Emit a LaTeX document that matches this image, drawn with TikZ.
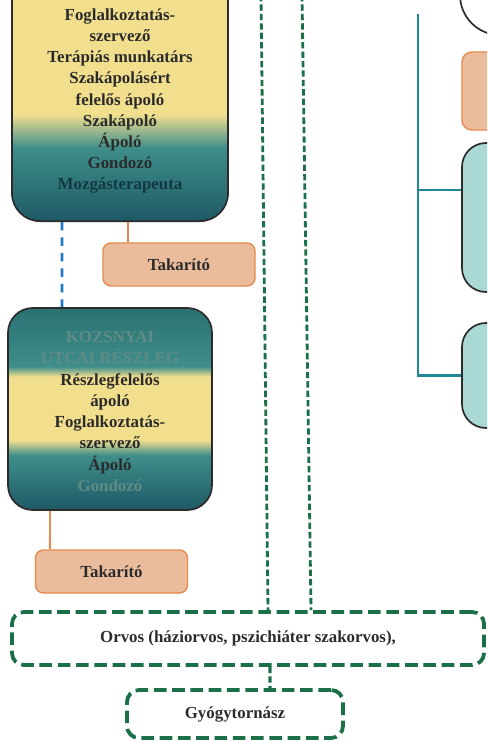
\documentclass[tikz,border=0pt]{standalone}
\usepackage{fontspec}
\setmainfont{Liberation Serif}
\usepackage{tikz}
\definecolor{sarga}{HTML}{F2DF8E}
\definecolor{tealmid}{HTML}{3F8E8B}
\definecolor{tealtop}{HTML}{2A7072}
\definecolor{tealdark}{HTML}{1D5965}
\definecolor{peach}{HTML}{EBBC9C}
\definecolor{narancs}{HTML}{E48A4E}
\definecolor{zold}{HTML}{1B7048}
\definecolor{kek}{HTML}{2378C8}
\definecolor{turkiz}{HTML}{1F8798}
\definecolor{halvany}{HTML}{A9D8D5}
\definecolor{szurke}{HTML}{2B2B2B}
\definecolor{tealszoveg}{HTML}{123840}
\definecolor{fakoszoveg}{HTML}{5E8C84}
\pgfdeclareverticalshading{felsoshade}{100bp}{color(0bp)=(tealdark); color(25bp)=(tealdark); color(38bp)=(tealmid); color(44bp)=(sarga); color(100bp)=(sarga)}
\pgfdeclareverticalshading{reszlegshade}{100bp}{color(0bp)=(tealdark); color(25bp)=(tealdark); color(38.6bp)=(tealmid); color(42.3bp)=(sarga); color(58bp)=(sarga); color(60.5bp)=(tealmid); color(75bp)=(tealtop); color(100bp)=(tealtop)}
\tikzstyle{unit} = [rectangle, draw=szurke, line width=1.2pt, rounded corners=0.7cm]
\tikzstyle{stafftext} = [align=center, font=\bfseries\fontsize{12}{15.1}\selectfont, text=szurke]
\tikzstyle{cleaner} = [rectangle, draw=narancs, line width=1pt, fill=peach, rounded corners=0.2cm, minimum width=3.8cm, minimum height=1.075cm, font=\bfseries\fontsize{12}{14}\selectfont, text=szurke]
\tikzstyle{outside} = [rectangle, draw=zold, line width=2.7pt, dash pattern=on 9pt off 4pt, rounded corners=0.3cm, font=\bfseries\fontsize{12}{14}\selectfont, text=szurke]
\tikzstyle{tealbox} = [rectangle, draw=szurke, line width=1.2pt, fill=halvany, rounded corners=0.6cm]
\tikzstyle{greenline} = [zold, line width=2pt, dash pattern=on 4.5pt off 2.2pt]
\tikzstyle{blueline} = [kek, line width=2pt, dash pattern=on 6pt off 5pt]
\tikzstyle{orangeline} = [narancs, line width=1.3pt]
\tikzstyle{treeline} = [turkiz, line width=1.5pt]
\begin{document}
\begin{tikzpicture}[x=0.025cm, y=-0.025cm]
        \useasboundingbox (0,0) rectangle (487,742);
        \clip (0,0) rectangle (487,742);

        % Left column: units with their staff
        \node (felso) [unit, shading=felsoshade, minimum width=5.4cm, minimum height=7.05cm, anchor=south] at (120,222) {};
        \node (felsonev) [stafftext] at (120,101) {Foglalkoztatás-\\szervező\\Terápiás munkatárs\\Szakápolásért\\felelős ápoló\\Szakápoló\\Ápoló\\Gondozó\\\textcolor{tealszoveg}{Mozgásterapeuta}};
        \node (tak1) [cleaner] at (179,264.5) {Takarító};

        \node (reszleg) [unit, shading=reszlegshade, rounded corners=0.62cm, minimum width=5.1cm, minimum height=5.05cm] at (110,409) {};
        \node (reszlegnev) [stafftext] at (110,411.5) {\textcolor{fakoszoveg}{KOZSNYAI}\\\textcolor{fakoszoveg}{UTCAI RÉSZLEG}\\Részlegfelelős\\ápoló\\Foglalkoztatás-\\szervező\\Ápoló\\\textcolor{fakoszoveg}{Gondozó}};
        \node (tak2) [cleaner] at (111.5,571.5) {Takarító};

        % Right column (cut off at the edge)
        \node (kor) [circle, draw=szurke, line width=1.2pt, fill=white, minimum size=2cm] at (500,-5) {};
        \node (jobbnarancs) [cleaner, rounded corners=0.25cm, minimum width=3.45cm, minimum height=1.95cm] at (531,91) {};
        \node (r1) [tealbox, minimum width=3.45cm, minimum height=3.725cm] at (531,217.5) {};
        \node (r2) [tealbox, minimum width=3.45cm, minimum height=2.625cm] at (531,375.5) {};
        \coordinate (torzs) at (418,14);

        % Outside staff
        \node (orvos) [outside, minimum width=11.8cm, minimum height=1.325cm] at (248,638.5) {Orvos (háziorvos, pszichiáter szakorvos),};
        \node (gyogy) [outside, minimum width=5.4cm, minimum height=1.2cm] at (235,714) {Gyógytornász};
        \coordinate (zt1) at (261,-5);
        \coordinate (zt2) at (302,-5);

        % Connectors
        \draw [blueline] ([xshift=-1.45cm]felso.south) -- ([xshift=-1.2cm]reszleg.north);
        \draw [orangeline] ([xshift=0.2cm]felso.south) -- ([xshift=-1.275cm]tak1.north);
        \draw [orangeline] ([xshift=-1.5cm]reszleg.south) -- ([xshift=-1.54cm]tak2.north);
        \draw [treeline] (torzs) |- (r2.west);
        \draw [treeline] ([yshift=0.69cm]r1.west) -| (torzs);
        \draw [greenline] (zt1) -- ([xshift=0.5cm]orvos.north);
        \draw [greenline] (zt2) -- ([xshift=1.575cm]orvos.north);
        \draw [greenline, line width=2.4pt] ([xshift=0.55cm]orvos.south) -- ([xshift=0.875cm]gyogy.north);

    \end{tikzpicture}
\end{document}
